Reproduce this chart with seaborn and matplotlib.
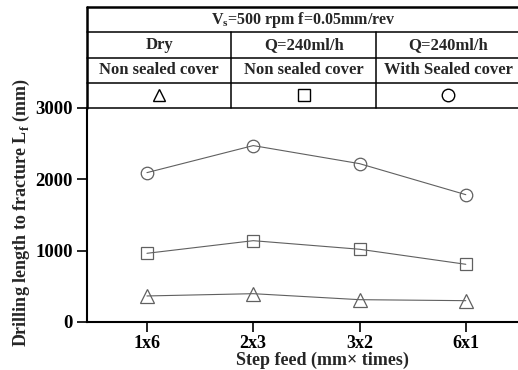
import numpy as np
import matplotlib
matplotlib.use("Agg")
import matplotlib.pyplot as plt
import seaborn as sns

# data
steps = ["1x6", "2x3", "3x2", "6x1"]
dry_non_sealed = [365, 397, 313, 299]
mql_non_sealed = [963, 1140, 1020, 809]
mql_sealed = [2094, 2473, 2220, 1785]

col_top = ["Dry", "Q=240ml/h", "Q=240ml/h"]
col_bottom = ["Non sealed cover", "Non sealed cover", "With Sealed cover"]
markers = ["^", "s", "o"]
title_text = r"V$_\mathbf{s}$=500 rpm f=0.05mm/rev"

sns.set_theme(style="ticks")
plt.rcParams["font.family"] = ["Liberation Serif", "DejaVu Serif"]
plt.rcParams["mathtext.fontset"] = "custom"
plt.rcParams["mathtext.rm"] = "Liberation Serif"
plt.rcParams["mathtext.bf"] = "Liberation Serif:bold"

fig = plt.figure(figsize=(5.18, 3.70), dpi=100)
ax = fig.add_axes([87 / 518, 1 - 322 / 370, 1 - 87 / 518 + 0.01, (322 - 108) / 370])
tab = fig.add_axes([87 / 518, 1 - 108 / 370, 1 - 87 / 518 + 0.01, (108 - 7) / 370])

pos = np.arange(len(steps))
line_col = "#606060"
for vals, m in zip([dry_non_sealed, mql_non_sealed, mql_sealed], markers):
    sns.lineplot(x=pos, y=vals, ax=ax, color=line_col, lw=0.8, marker=m,
                 markersize=9 if m != "^" else 10, markerfacecolor="none",
                 markeredgecolor=line_col, markeredgewidth=0.9)

ax.set_xlim(-0.564, 3.54)
ax.set_ylim(0, 3000)
ax.set_xticks(pos)
ax.set_xticklabels(steps, fontsize=13, fontweight="bold")
ax.set_yticks([0, 1000, 2000, 3000])
ax.set_yticklabels(["0", "1000", "2000", "3000"], fontsize=13.5, fontweight="bold")
ax.tick_params(axis="both", direction="out", length=7, width=1.2, colors="black", pad=3)
ax.tick_params(axis="x", pad=2)
for s in ["left", "bottom"]:
    ax.spines[s].set_linewidth(1.5)
    ax.spines[s].set_color("black")
ax.spines["top"].set_visible(False)
ax.spines["right"].set_visible(False)
ax.set_xlabel("Step feed (mm\u00d7 times)", fontsize=13, fontweight="bold")
ax.xaxis.set_label_coords(0.54, -0.138)
ax.set_ylabel(r"Drilling length to fracture L$_\mathbf{f}$ (mm)", fontsize=13,
              fontweight="bold")
ax.yaxis.set_label_coords(-0.125, 0.51)

# header table
tab.set_xlim(0, 3.02)
tab.set_ylim(0, 4)
tab.axis("off")
lw_thin = 1.1
tab.plot([0, 3.02], [4, 4], color="black", lw=1.8, clip_on=False)
tab.plot([0, 0], [0, 4], color="black", lw=1.8, clip_on=False)
for y in [0, 1, 2, 3]:
    tab.plot([0, 3.02], [y, y], color="black", lw=lw_thin, clip_on=False)
for x in [1, 2, 3]:
    tab.plot([x, x], [0, 3], color="black", lw=lw_thin, clip_on=False)
tab.text(1.5, 3.5, title_text, ha="center", va="center", fontsize=11.5, fontweight="bold")
for i in range(3):
    tab.text(i + 0.5, 2.5, col_top[i], ha="center", va="center", fontsize=12, fontweight="bold")
    tab.text(i + 0.5, 1.5, col_bottom[i], ha="center", va="center", fontsize=12, fontweight="bold")
    tab.plot([i + 0.5], [0.5], marker=markers[i], markersize=9, markerfacecolor="none",
             markeredgecolor="black", markeredgewidth=1.0, linestyle="none")

fig.savefig("out.png", dpi=100)
